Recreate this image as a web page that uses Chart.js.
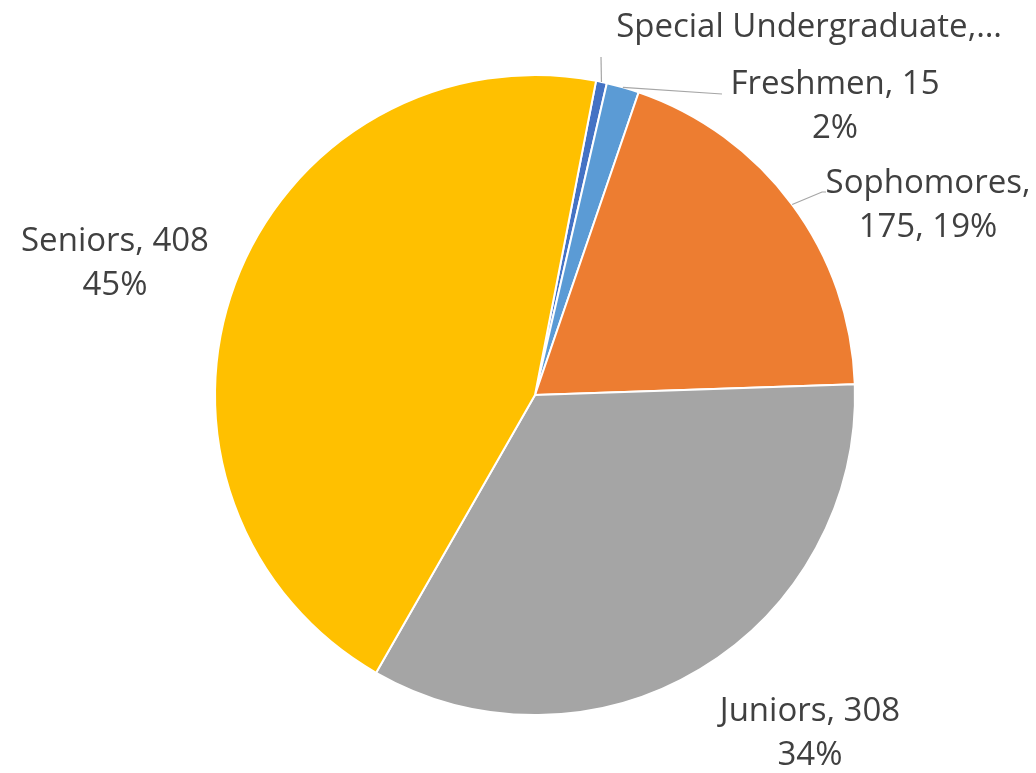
<!DOCTYPE html>
<html>
<head>
<meta charset="utf-8">
<script src="https://cdn.jsdelivr.net/npm/chart.js@4.4.0/dist/chart.umd.min.js"></script>
<style>
  html, body { margin: 0; padding: 0; background: #fff; }
  #wrap { width: 1036px; height: 773px; }
</style>
</head>
<body>
<div id="wrap"><canvas id="chart-students"></canvas></div>
<script>
// Enrollment by class standing
const categories = ['Special Undergraduate', 'Freshmen', 'Sophomores', 'Juniors', 'Seniors'];
const students = [5, 15, 175, 308, 408];
const sliceColors = ['#4472C4', '#5B9BD5', '#ED7D31', '#A5A5A5', '#FFC000'];

// label text boxes: center x, first-line y, and an optional leader end
const labelLayout = [
    { lines: (n, v, p) => [n + ',…'], x: 809, y: 28, leader: [[601, 57]] },
    { lines: (n, v, p) => [n + ', ' + v, p + '%'], x: 835, y: 85, leader: [[722, 94]] },
    { lines: (n, v, p) => [n + ',', v + ', ' + p + '%'], x: 928, y: 184, leader: [[822, 192], [826, 192]] },
    { lines: (n, v, p) => [n + ', ' + v, p + '%'], x: 810, y: 712, leader: null },
    { lines: (n, v, p) => [n + ', ' + v, p + '%'], x: 115, y: 242, leader: null }
];

const sliceLabels = {
    id: 'sliceLabels',
    afterDatasetsDraw(chart) {
        const ctx = chart.ctx;
        const arcs = chart.getDatasetMeta(0).data;
        const total = students.reduce((a, b) => a + b, 0);
        ctx.save();
        arcs.forEach((arc, i) => {
            const cfg = labelLayout[i];
            if (cfg.leader) {
                const mid = (arc.startAngle + arc.endAngle) / 2;
                const sx = arc.x + Math.cos(mid) * arc.outerRadius;
                const sy = arc.y + Math.sin(mid) * arc.outerRadius;
                ctx.strokeStyle = '#A6A6A6';
                ctx.lineWidth = 1.2;
                ctx.beginPath();
                ctx.moveTo(sx, sy);
                cfg.leader.forEach(p => ctx.lineTo(p[0], p[1]));
                ctx.stroke();
            }
            const pct = Math.round(students[i] / total * 100);
            const lines = cfg.lines(categories[i], students[i], pct);
            ctx.fillStyle = '#404040';
            ctx.font = '33px "Open Sans"';
            ctx.textAlign = 'center';
            ctx.textBaseline = 'middle';
            lines.forEach((t, k) => ctx.fillText(t, cfg.x, cfg.y + k * 44));
        });
        ctx.restore();
    }
};

new Chart(document.getElementById('chart-students').getContext('2d'), {
    type: 'pie',
    data: {
        labels: categories,
        datasets: [{
            data: students,
            backgroundColor: sliceColors,
            borderColor: '#FFFFFF',
            borderWidth: 2
        }]
    },
    options: {
        responsive: true,
        maintainAspectRatio: false,
        animation: false,
        rotation: 11,
        layout: { padding: { left: 214, right: 180, top: 74, bottom: 57 } },
        plugins: { legend: { display: false }, tooltip: { enabled: false } }
    },
    plugins: [sliceLabels]
});
</script>
</body>
</html>
